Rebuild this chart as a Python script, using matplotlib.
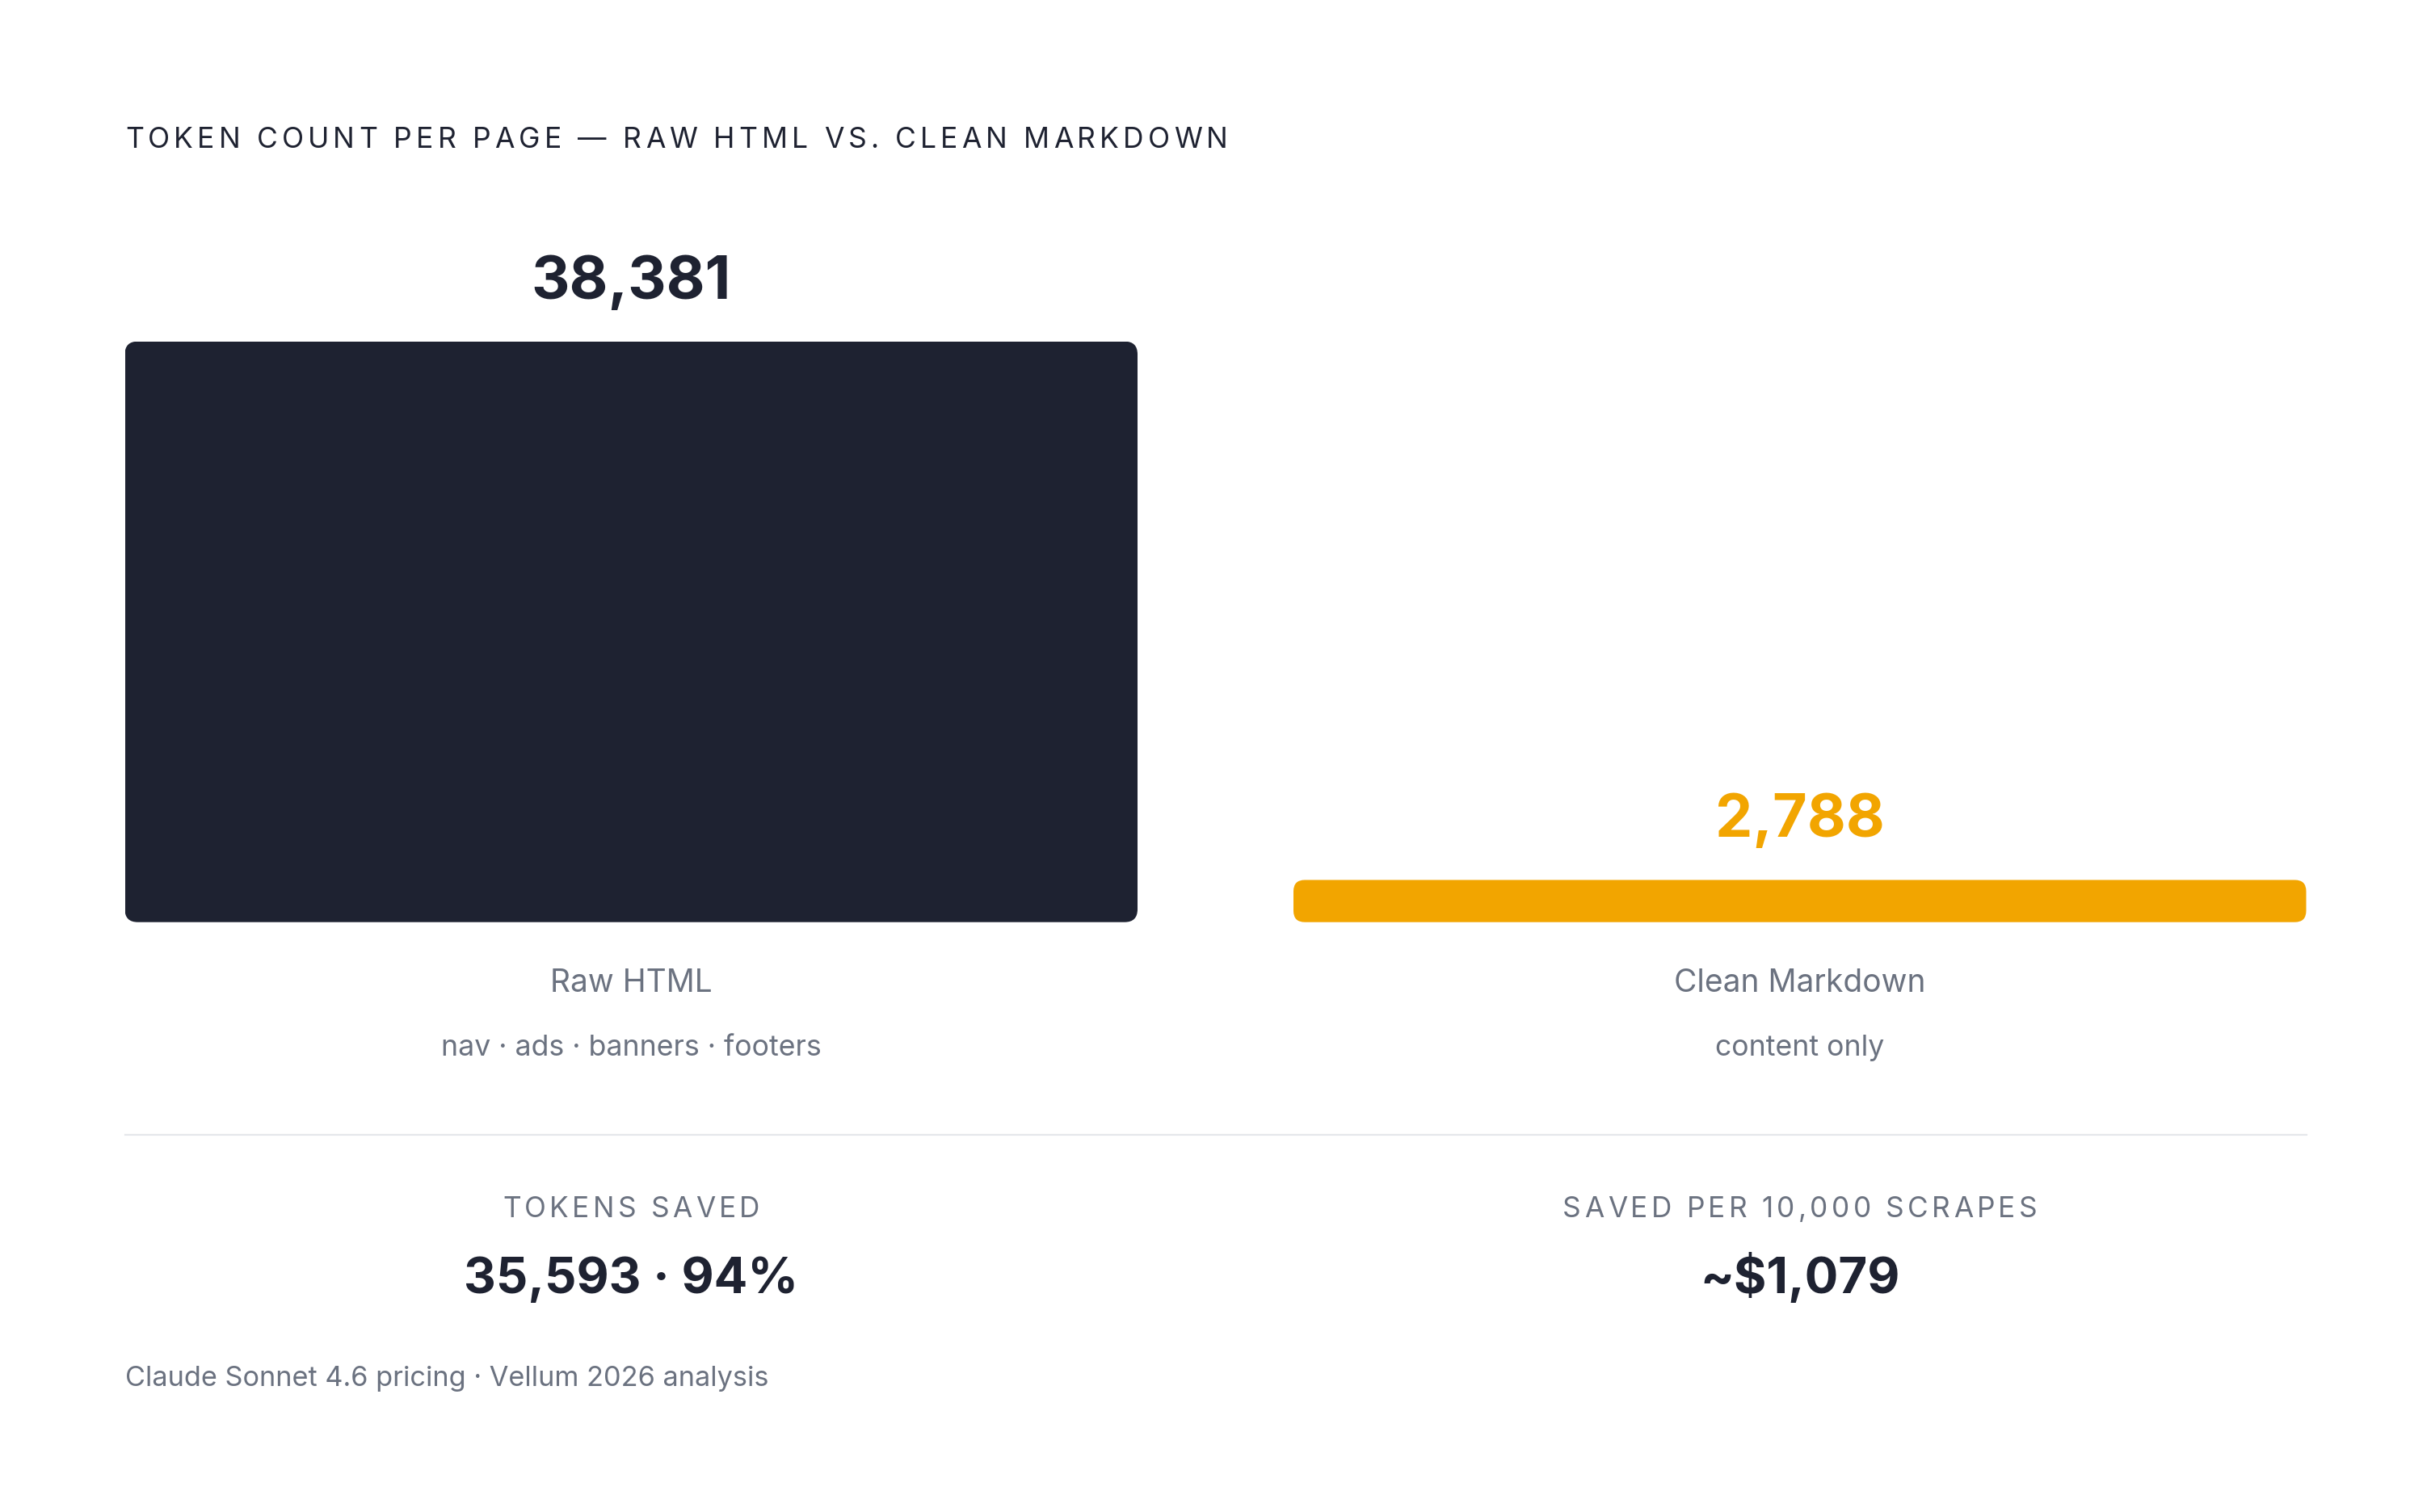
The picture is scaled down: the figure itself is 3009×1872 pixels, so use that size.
import matplotlib
matplotlib.use("Agg")
import matplotlib.pyplot as plt
from matplotlib.patches import FancyBboxPatch

plt.rcParams['font.family'] = ['Inter', 'DejaVu Sans']

W, H = 3009, 1872
DARK = '#1e2231'
GRAY = '#6b7280'
ORANGE = '#f2a500'
LINE = '#e5e7eb'

# data
categories = ['Raw HTML', 'Clean Markdown']
subtitles = ['nav · ads · banners · footers', 'content only']
tokens = [38381, 2788]
bar_colors = [DARK, ORANGE]
label_colors = [DARK, ORANGE]
stat_titles = ['TOKENS SAVED', 'SAVED PER 10,000 SCRAPES']
stat_values = ['35,593 · 94%', '~$1,079']
title = 'TOKEN COUNT PER PAGE — RAW HTML VS. CLEAN MARKDOWN'
note = 'Claude Sonnet 4.6 pricing · Vellum 2026 analysis'


def fx(x):
    return x / W


def fy(y):
    return 1 - y / H


fig = plt.figure(figsize=(W / 100, H / 100), dpi=100)
fig.patch.set_facecolor('white')
renderer = fig.canvas.get_renderer()


def text_width(s, **kw):
    t = fig.text(0, 0, s, **kw)
    w = t.get_window_extent(renderer).width
    t.remove()
    return w


def spaced(text, x, y, spacing, ha='left', **kw):
    # letter-spaced text, x/y in pixels from top-left, spacing in px
    total = text_width(text, **kw) + spacing * (len(text) - 1)
    x0 = x - total / 2 if ha == 'center' else x
    for i, ch in enumerate(text):
        off = text_width(text[:i], **kw) if i else 0
        fig.text(fx(x0 + off + i * spacing), fy(y), ch, va='baseline', ha='left', **kw)


# bar axes
left, right = 154.5, 2854.5
bar_w_px = 1253.5
top, bottom = 422.7, 1141.7
ax = fig.add_axes([fx(left), fy(bottom), (right - left) / W, (bottom - top) / H])
gap_px = (right - left) - 2 * bar_w_px
unit_px = bar_w_px + gap_px
wf = bar_w_px / unit_px
ax.set_xlim(-wf / 2, 1 + wf / 2)
ax.set_ylim(0, max(tokens))
ax.axis('off')

bars = ax.bar(range(len(categories)), tokens, width=wf, color=bar_colors)
px_x = unit_px  # pixels per x unit
px_y = (bottom - top) / max(tokens)  # pixels per y unit
radii = [16, 14]
for b, r, c in zip(bars, radii, bar_colors):
    bx, by, bw, bh = b.get_x(), b.get_y(), b.get_width(), b.get_height()
    b.remove()
    patch = FancyBboxPatch((bx, by), bw, bh,
                           boxstyle=f'round,pad=0,rounding_size={r / px_x}',
                           mutation_aspect=(1 / px_y) / (1 / px_x),
                           facecolor=c, edgecolor='none')
    ax.add_patch(patch)

for i, v in enumerate(tokens):
    ax.annotate(f'{v:,}', xy=(i, v), xytext=(0, 53 * 0.72), textcoords='offset points',
                ha='center', va='baseline', fontsize=53, fontweight='bold',
                color=label_colors[i])

centers = [left + bar_w_px / 2, right - bar_w_px / 2]

# title
spaced(title, 155, 183, 5.1, fontsize=25.5, color=DARK)

# category labels
for cx, cat, sub in zip(centers, categories, subtitles):
    fig.text(fx(cx), fy(1228), cat, ha='center', va='baseline', fontsize=28, color=GRAY)
    fig.text(fx(cx), fy(1307), sub, ha='center', va='baseline', fontsize=25.7, color=GRAY)

# separator
fig.add_artist(plt.Line2D([fx(left), fx(right)], [fy(1405), fy(1405)],
                          color=LINE, lw=1.6))

# stats
for cx, st, sv in zip(centers, stat_titles, stat_values):
    spaced(st, cx, 1507, 4.3, ha='center', fontsize=25.3, color=GRAY)
    fig.text(fx(cx), fy(1601), sv, ha='center', va='baseline', fontsize=44.5,
             fontweight='bold', color=DARK)

fig.text(fx(155), fy(1716), note, ha='left', va='baseline', fontsize=24.7, color=GRAY)

fig.savefig('out.png', dpi=100, facecolor='white')
